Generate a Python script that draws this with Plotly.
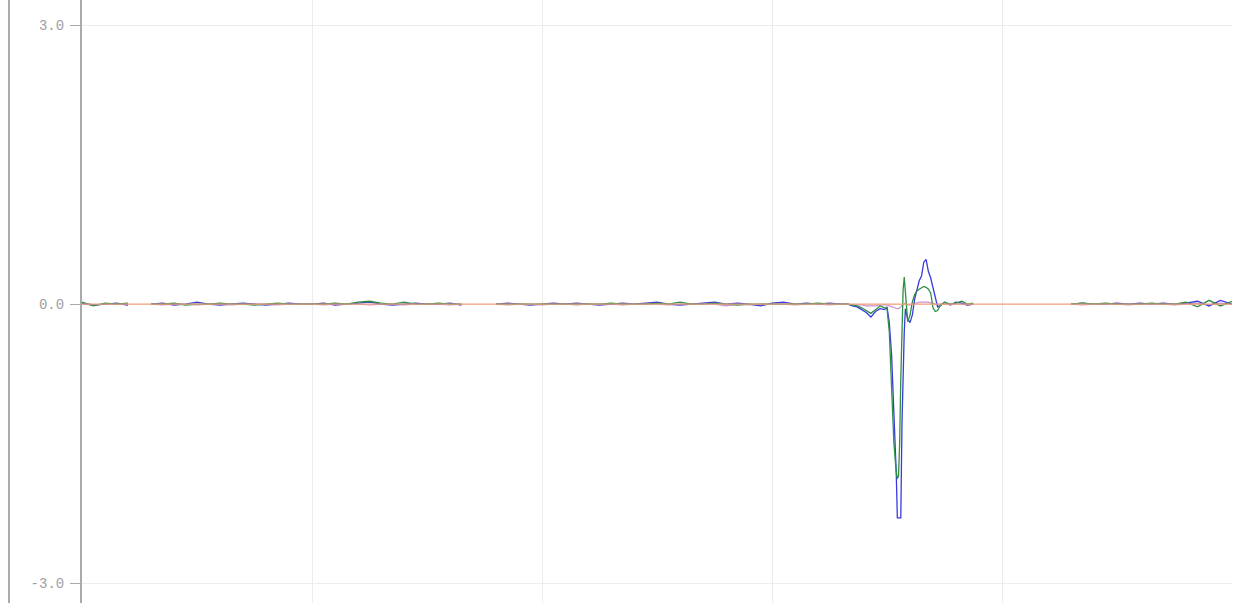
import plotly.graph_objects as go

# sample index positions (shared by all series)
x_flat = list(range(0, 670, 10))
x_spike = [666, 670, 674, 678, 682, 686, 690, 694, 698, 700, 702, 704, 706, 708, 709, 710,
           711, 712, 713, 714, 715, 716, 717, 718, 720, 722, 724, 726, 728, 730, 732, 734,
           736, 738, 740, 742, 744, 746, 748, 750, 755]
x_after = [760, 765, 770, 775, 800]
x_tail = [840, 850, 860, 870, 880, 890, 900, 910, 920, 930, 940, 950, 960, 970, 980, 990, 1000]
x_vals = x_flat + x_spike + x_after + x_tail

blue_flat = [0.01, -0.01, 0.0, 0.01, -0.01, None, 0.0, 0.01, -0.01, 0.0,
             0.02, 0.0, -0.01, 0.0, 0.01, 0.0, -0.01, 0.0, 0.01, 0.0,
             0.0, 0.01, -0.01, 0.0, 0.01, 0.02, 0.0, -0.01, 0.0, 0.01,
             0.0, 0.0, 0.01, -0.01, None, None, 0.0, 0.01, 0.0, -0.01,
             0.0, 0.01, 0.0, 0.01, 0.0, -0.01, 0.0, 0.01, 0.0, 0.01,
             0.02, 0.0, -0.01, 0.0, 0.01, 0.02, 0.0, 0.01, 0.0, -0.02,
             0.01, 0.02, 0.0, 0.01, 0.0, 0.01, 0.0]
blue_spike = [0.0, -0.02, -0.03, -0.06, -0.09, -0.14, -0.08, -0.05, -0.06, -0.03,
              -0.2, -0.55, -1.1, -1.8, -2.3, -2.3, -2.3, -2.3, -1.3, -0.6,
              -0.3, -0.05, -0.1, -0.16, -0.2, -0.12, 0.05, 0.15, 0.25, 0.3,
              0.45, 0.48, 0.35, 0.28, 0.18, 0.05, -0.03, -0.02, 0.0, 0.02, -0.01]
blue_after = [0.02, 0.01, -0.01, 0.0, None]
blue_tail = [0.01, None, 0.0, 0.01, 0.0, 0.0, 0.01, 0.0, 0.01, 0.0, 0.01, 0.0, 0.01,
             0.03, -0.02, 0.04, 0.0]

green_flat = [0.02, -0.02, 0.01, 0.0, 0.01, None, 0.0, 0.0, 0.01, -0.01,
              0.0, 0.0, 0.01, 0.0, 0.0, -0.01, 0.0, 0.01, 0.0, 0.0,
              0.0, 0.0, 0.01, 0.0, 0.02, 0.03, 0.01, 0.0, 0.02, 0.0,
              0.0, 0.01, 0.0, 0.0, None, None, 0.0, 0.0, 0.0, 0.0,
              0.0, 0.0, 0.0, 0.0, 0.0, 0.0, 0.01, 0.0, 0.0, 0.0,
              0.01, 0.0, 0.02, 0.0, 0.0, 0.01, 0.0, -0.01, 0.0, 0.0,
              0.0, 0.0, 0.0, 0.0, 0.01, 0.0, 0.0]
green_spike = [0.0, -0.01, -0.02, -0.04, -0.07, -0.1, -0.06, -0.02, -0.04, -0.05,
               -0.3, -0.9, -1.5, -1.8, -1.88, -1.85, -1.5, -0.8, -0.2, 0.15,
               0.29, 0.1, -0.12, -0.19, -0.12, 0.02, 0.1, 0.14, 0.16, 0.18,
               0.19, 0.18, 0.16, 0.12, -0.04, -0.08, -0.07, -0.02, 0.0, 0.02, 0.0]
green_after = [0.01, 0.03, 0.0, 0.01, None]
green_tail = [0.02, None, 0.0, 0.01, 0.0, 0.01, 0.0, 0.0, 0.0, 0.01, 0.0, 0.0, 0.02,
              -0.03, 0.04, -0.02, 0.03]

red_flat = [0.0, -0.01, 0.0, 0.0, -0.01, None, 0.0, -0.01, 0.0, 0.0,
            -0.01, 0.0, 0.0, -0.01, 0.0, 0.0, 0.0, -0.01, 0.0, 0.0,
            0.0, -0.01, 0.0, 0.0, 0.0, -0.01, 0.0, 0.0, -0.01, 0.0,
            0.0, 0.0, -0.01, 0.0, None, None, 0.0, -0.01, 0.0, 0.0,
            -0.01, 0.0, 0.0, -0.01, 0.0, 0.0, 0.0, -0.01, 0.0, 0.0,
            0.0, -0.01, 0.0, 0.0, 0.0, 0.0, -0.02, 0.0, -0.01, 0.0,
            0.0, 0.0, -0.01, 0.0, 0.0, -0.01, 0.0]
red_spike = [0.0, -0.01, -0.01, -0.01, -0.02, -0.02, -0.02, -0.01, -0.01, -0.01,
             -0.02, -0.03, -0.04, -0.05, -0.05, -0.05, -0.04, -0.03, -0.02, -0.01,
             0.0, 0.01, 0.0, -0.01, -0.01, 0.0, 0.01, 0.01, 0.02, 0.02,
             0.02, 0.02, 0.02, 0.01, 0.01, 0.0, -0.01, 0.0, 0.0, 0.0, 0.0]
red_after = [0.0, 0.0, -0.01, 0.0, None]
red_tail = [0.0, None, 0.0, -0.01, 0.0, 0.0, 0.0, -0.01, 0.0, 0.0, 0.0, -0.01, 0.0,
            0.01, -0.01, 0.01, 0.0]

ref_x = [0, 1000]
ref_y = [0.0, 0.0]

y_ticks = [-3, 0, 3]
y_labels = ["-3.0", "0.0", "3.0"]

fig = go.Figure()
fig.add_trace(go.Scatter(x=x_vals, y=red_flat + red_spike + red_after + red_tail,
                         mode="lines", line=dict(color="rgba(170,70,170,0.6)", width=1.2),
                         showlegend=False))
fig.add_trace(go.Scatter(x=x_vals, y=blue_flat + blue_spike + blue_after + blue_tail,
                         mode="lines", line=dict(color="#3a3ae0", width=1.3),
                         showlegend=False))
fig.add_trace(go.Scatter(x=x_vals, y=green_flat + green_spike + green_after + green_tail,
                         mode="lines", line=dict(color="#2f8f45", width=1.3),
                         showlegend=False))
fig.add_trace(go.Scatter(x=ref_x, y=ref_y, mode="lines",
                         line=dict(color="#f2a27c", width=1.2), showlegend=False))

fig.update_layout(
    width=1233, height=603,
    margin=dict(l=82, r=1, t=0, b=0),
    paper_bgcolor="white", plot_bgcolor="white",
    xaxis=dict(range=[0, 1000], showticklabels=False, showline=False, zeroline=False,
               showgrid=True, gridcolor="#ececec", gridwidth=1, dtick=200, tick0=0,
               ticks=""),
    yaxis=dict(range=[-3.215, 3.27], tickvals=y_ticks, ticktext=y_labels,
               showline=True, linecolor="#aaaaaa", linewidth=2,
               ticks="outside", ticklen=10, tickcolor="#aaaaaa", tickwidth=1,
               ticklabelstandoff=3,
               showgrid=True, gridcolor="#ececec", zeroline=False,
               tickfont=dict(family="Liberation Mono", size=14, color="#a0a0a0")),
    shapes=[dict(type="line", xref="paper", yref="paper", x0=-0.0635, x1=-0.0635,
                 y0=0, y1=1, line=dict(color="#aaaaaa", width=2))],
)

fig.write_html("out.html", config={"displayModeBar": False},
               post_script="document.body.style.margin='0px';")
